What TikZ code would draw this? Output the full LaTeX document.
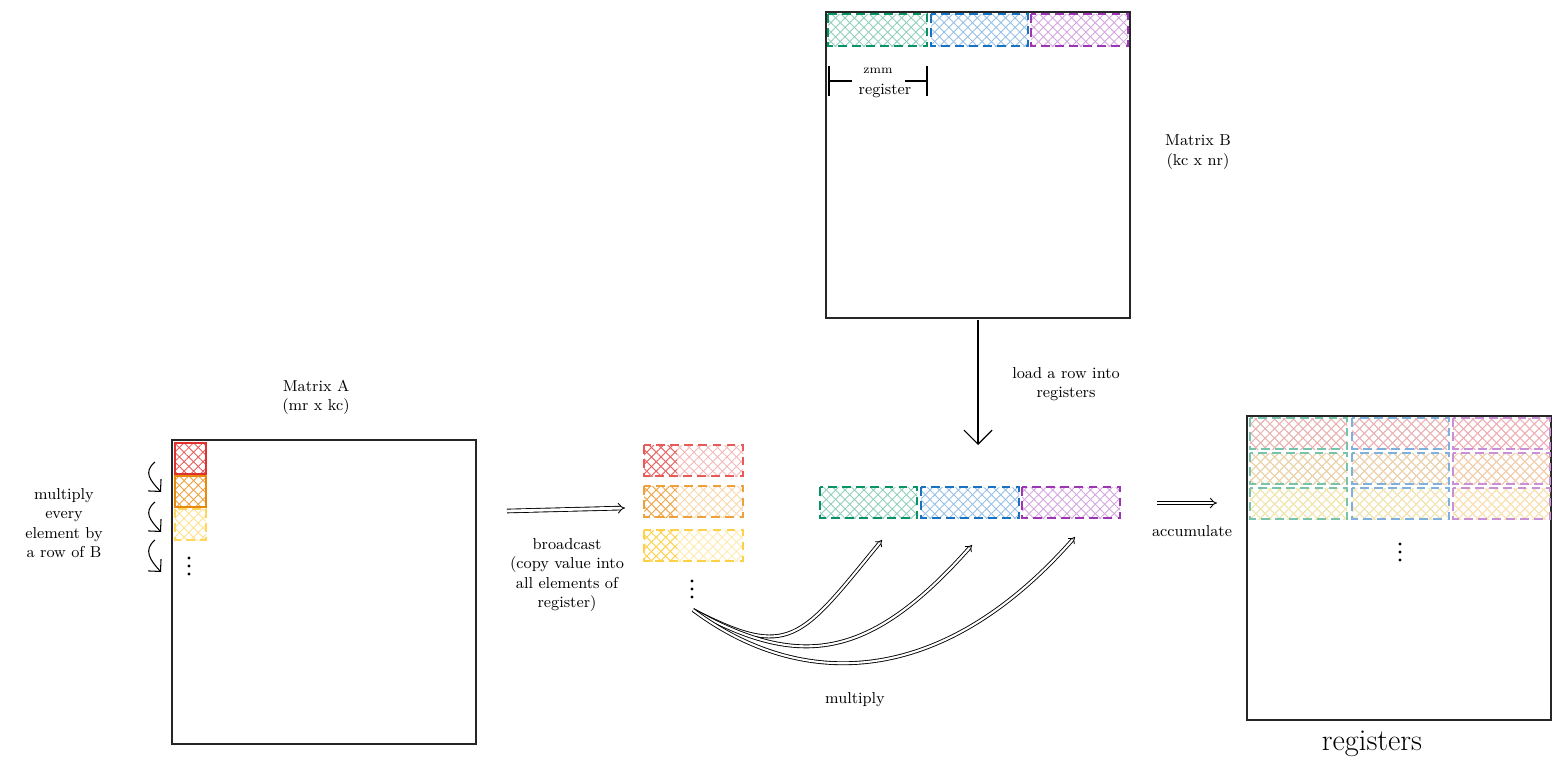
\documentclass[tikz,border=0pt]{standalone}
\usetikzlibrary{patterns.meta,arrows.meta,positioning}
\definecolor{cgreen}{HTML}{099268}
\definecolor{cblue}{HTML}{1971C2}
\definecolor{cpurple}{HTML}{9C36B5}
\definecolor{cred}{HTML}{E03131}
\definecolor{corange}{HTML}{E8890C}
\definecolor{cyellow}{HTML}{FCC419}
\tikzset{
  mat/.style={draw=black!85, line width=0.9pt},
  reg/.style={line width=1.3pt, dash pattern=on 5pt off 3pt},
  lbl/.style={font=\small, align=center, inner sep=1pt},
  dbl/.style={double, double distance=1.6pt, line width=0.5pt, -{Implies[length=8pt]}},
  thin arrow/.style={line width=0.6pt, -{Straight Barb[length=5pt]}},
}
\newcommand\hatch[3]{%
  \fill[pattern={Lines[angle=45,distance=3.8pt,line width=0.5pt]}, pattern color=#1] #2 rectangle #3;
  \fill[pattern={Lines[angle=-45,distance=3.8pt,line width=0.5pt]}, pattern color=#1] #2 rectangle #3;}
\newcommand\regbox[3]{\hatch{#1!45}{#2}{#3}\draw[reg, draw=#1] #2 rectangle #3;}
\newcommand\vdotsat[2]{\foreach \d in {-8,0,8} \fill (#1,#2+\d) circle (1.6);}
\begin{document}
\begin{tikzpicture}[x=0.02cm, y=-0.02cm]
\useasboundingbox (0,0) rectangle (1567,778);

% matrix A
\draw[mat] (172,440) rectangle (476,744);
\node[lbl] (labA) at (316,397) {Matrix A\\(mr x kc)};
\hatch{cred!80}{(175,443)}{(206,474)} \draw[line width=1.2pt, cred] (175,443) rectangle (206,474);
\hatch{corange!80}{(175,476)}{(206,507)} \draw[line width=1.2pt, corange] (175,476) rectangle (206,507);
\hatch{cyellow!50}{(175,509)}{(206,540)} \draw[reg, cyellow!70] (175,509) rectangle (206,540);
\vdotsat{189}{566}
\foreach \ya/\yb in {462/492, 502/532, 540/572}
  \draw[thin arrow] (155,\ya) .. controls (143,\ya+10) and (150,\yb-12) .. (161,\yb);
\node[lbl] (mult) at (64,523) {multiply\\every\\element by\\a row of B};

% broadcast
\coordinate (bcs) at (507,511);
\coordinate (bce) at (625,508);
\draw[dbl] (bcs) -- (bce);
\node[lbl] (bclbl) at (567,575) {broadcast\\(copy value into\\all elements of\\register)};
\foreach \y/\c in {445/cred, 486/corange, 530/cyellow} {
  \hatch{\c!35}{(644,\y)}{(743,\y+31)}
  \hatch{\c!75}{(644,\y)}{(677,\y+31)}
  \draw[reg, draw=\c!80] (644,\y) rectangle (743,\y+31);
}
\vdotsat{692}{589}

% matrix B
\draw[mat] (826,12) rectangle (1130,318);
\regbox{cgreen}{(828,14)}{(927,46)}
\regbox{cblue}{(931,14)}{(1028,46)}
\regbox{cpurple}{(1031,14)}{(1128,46)}
\coordinate (zl) at (829,81);
\coordinate (zr) at (927,81);
\draw[line width=0.6pt] (829,66) -- (829,96) (927,66) -- (927,96);
\draw[line width=0.6pt] (zl) -- (852,81) (905,81) -- (zr);
\node[font=\scriptsize] (zmm) at (878,71) {zmm};
\node[font=\small] (zreg) at (885,91) {register};
\node[lbl] (labB) at (1198,152) {Matrix B\\(kc x nr)};

% load
\coordinate (lds) at (978,320);
\coordinate (lde) at (978,445);
\draw[line width=0.7pt, -{Straight Barb[length=8pt]}] (lds) -- (lde);
\node[lbl] (ldlbl) at (1066,384) {load a row into\\registers};
\regbox{cgreen}{(820,487)}{(917,518)}
\regbox{cblue}{(921,487)}{(1019,518)}
\regbox{cpurple}{(1022,487)}{(1120,518)}

% multiply curves
\coordinate (ms) at (693,610);
\coordinate (m1) at (882,540);
\coordinate (m2) at (972,545);
\coordinate (m3) at (1075,537);
\draw[dbl, double distance=1.2pt] (ms) .. controls (790,660) and (800,640) .. (m1);
\draw[dbl, double distance=1.2pt] (ms) .. controls (800,670) and (870,660) .. (m2);
\draw[dbl, double distance=1.2pt] (ms) .. controls (800,690) and (940,690) .. (m3);
\node[lbl] (mlbl) at (855,700) {multiply};

% accumulate
\coordinate (acs) at (1157,503);
\coordinate (ace) at (1217,503);
\draw[dbl] (acs) -- (ace);
\node[lbl] (aclbl) at (1192,531) {accumulate};

% registers
\draw[mat] (1247,416) rectangle (1551,720);
\foreach \y/\r in {418/cred, 453/corange, 488/cyellow}
  \foreach \x/\c in {1250/cgreen, 1352/cblue, 1453/cpurple} {
    \hatch{\c!30}{(\x,\y)}{(\x+97,\y+31)}
    \hatch{\r!40}{(\x,\y)}{(\x+97,\y+31)}
    \draw[reg, draw=\c!55] (\x,\y) rectangle (\x+97,\y+31);
  }
\vdotsat{1400}{552}
\node[font=\LARGE] (regs) at (1372,744) {registers};
\end{tikzpicture}
\end{document}
